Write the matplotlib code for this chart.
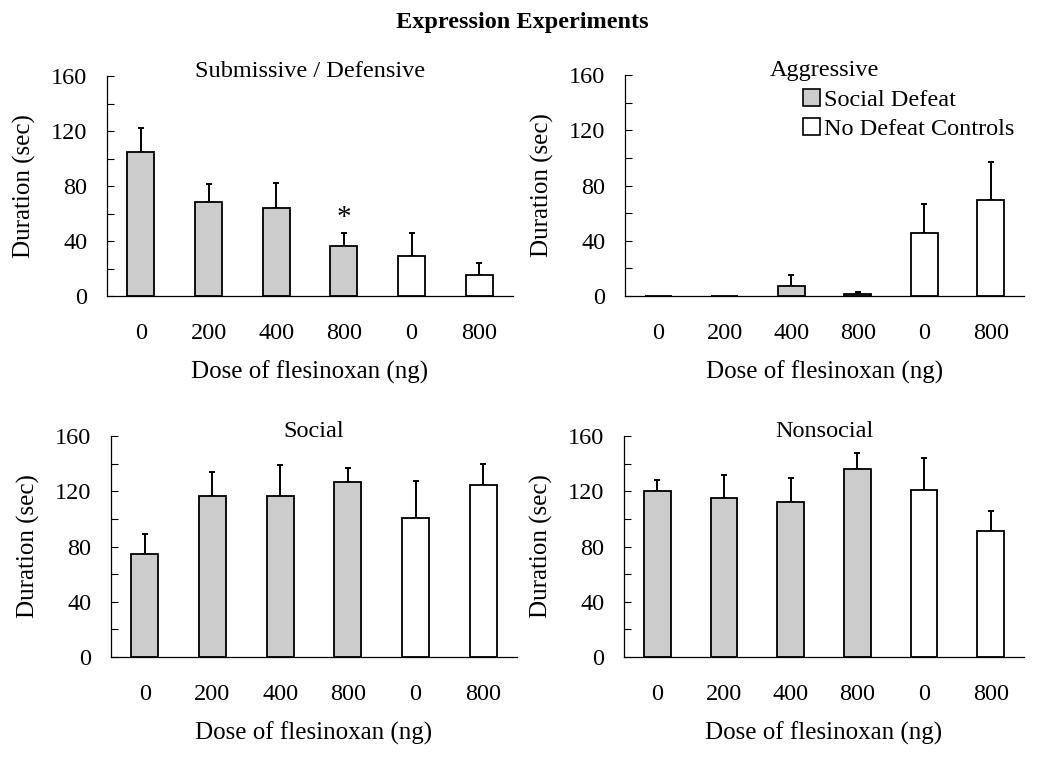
import numpy as np
import matplotlib

matplotlib.use("Agg")
import matplotlib.pyplot as plt  # noqa: E402
from matplotlib.patches import Patch  # noqa: E402

plt.rcParams["font.family"] = ["Liberation Serif", "DejaVu Serif"]

doses = ["0", "200", "400", "800", "0", "800"]
# first four bars: social defeat, last two: no-defeat controls
groups = ["defeat", "defeat", "defeat", "defeat", "control", "control"]

submissive_mean = [105, 68.6, 63.8, 36.6, 28.8, 15]
submissive_top = [122, 81.2, 82, 46, 46, 24.2]

aggressive_mean = [0, 0, 7.5, 1.5, 45.8, 69.3]
aggressive_top = [0, 0, 15.5, 3.2, 66.9, 97.2]

social_mean = [74.7, 116.8, 116.4, 126.5, 100.8, 124.6]
social_top = [88.7, 134, 138.7, 137.2, 127.5, 139.9]

nonsocial_mean = [120.3, 115, 112.3, 135.8, 120.6, 91.5]
nonsocial_top = [127.8, 131.5, 129.8, 147.9, 143.8, 105.6]

GRAY = "#cccccc"
FS = 17.5


def panel(ax, title, mean, top):
    x = np.arange(len(mean))
    mean = np.array(mean, dtype=float)
    top = np.array(top, dtype=float)
    colors = [GRAY if g == "defeat" else "white" for g in groups]
    ax.bar(x, mean, width=0.4, color=colors, edgecolor="black", linewidth=1.3,
           zorder=2)
    show = top > 0
    ax.errorbar(x[show], mean[show],
                yerr=[np.zeros(show.sum()), (top - mean)[show]],
                fmt="none", ecolor="black", elinewidth=1.4, capsize=2.4,
                capthick=1.4, zorder=1)
    ax.set_xlim(-0.5, 5.5)
    ax.set_ylim(0, 160)
    ax.set_yticks([0, 40, 80, 120, 160])
    ax.set_yticks([20, 60, 100, 140], minor=True)
    ax.set_xticks(x)
    ax.set_xticklabels(doses)
    ax.tick_params(axis="y", which="both", direction="in", length=5,
                   width=0.8, labelsize=FS, pad=14)
    ax.tick_params(axis="x", length=0, labelsize=FS, pad=19.5)
    for s in ("top", "right"):
        ax.spines[s].set_visible(False)
    for s in ("left", "bottom"):
        ax.spines[s].set_linewidth(0.9)
    # explicit y stops matplotlib from pushing the title back above the axes
    ax.set_title(title, fontsize=FS, y=1.0, pad=-0.5)
    ax.set_ylabel("Duration (sec)", fontsize=18, labelpad=11)
    ax.set_xlabel("Dose of flesinoxan (ng)", fontsize=18, labelpad=12)
    return x, top


fig = plt.figure(figsize=(10.5, 7.6), dpi=100)
ax_sub = fig.add_axes([0.1019, 0.6105, 0.3867, 0.2895])
ax_agg = fig.add_axes([0.5952, 0.6105, 0.3800, 0.2908])
ax_soc = fig.add_axes([0.1057, 0.1355, 0.3867, 0.2908])
ax_non = fig.add_axes([0.5943, 0.1355, 0.3810, 0.2908])

x, top = panel(ax_sub, "Submissive / Defensive", submissive_mean, submissive_top)
ax_sub.annotate("*", (x[3], top[3]), xytext=(0, 1), textcoords="offset points",
                ha="center", va="bottom", fontsize=21)
panel(ax_agg, "Aggressive", aggressive_mean, aggressive_top)
panel(ax_soc, "Social", social_mean, social_top)
panel(ax_non, "Nonsocial", nonsocial_mean, nonsocial_top)

handles = [Patch(facecolor=GRAY, edgecolor="black", linewidth=1.2),
           Patch(facecolor="white", edgecolor="black", linewidth=1.2)]
ax_agg.legend(handles, ["Social Defeat", "No Defeat Controls"],
              loc="upper left", bbox_to_anchor=(0.445, 0.935), frameon=False,
              fontsize=FS, handlelength=0.7, handleheight=0.7,
              handletextpad=0.2, labelspacing=0.28, borderpad=0,
              borderaxespad=0)

fig.text(0.497, 0.970, "Expression Experiments", ha="center", va="center",
         fontsize=FS, fontweight="bold")

fig.savefig("out.png", dpi=100)
